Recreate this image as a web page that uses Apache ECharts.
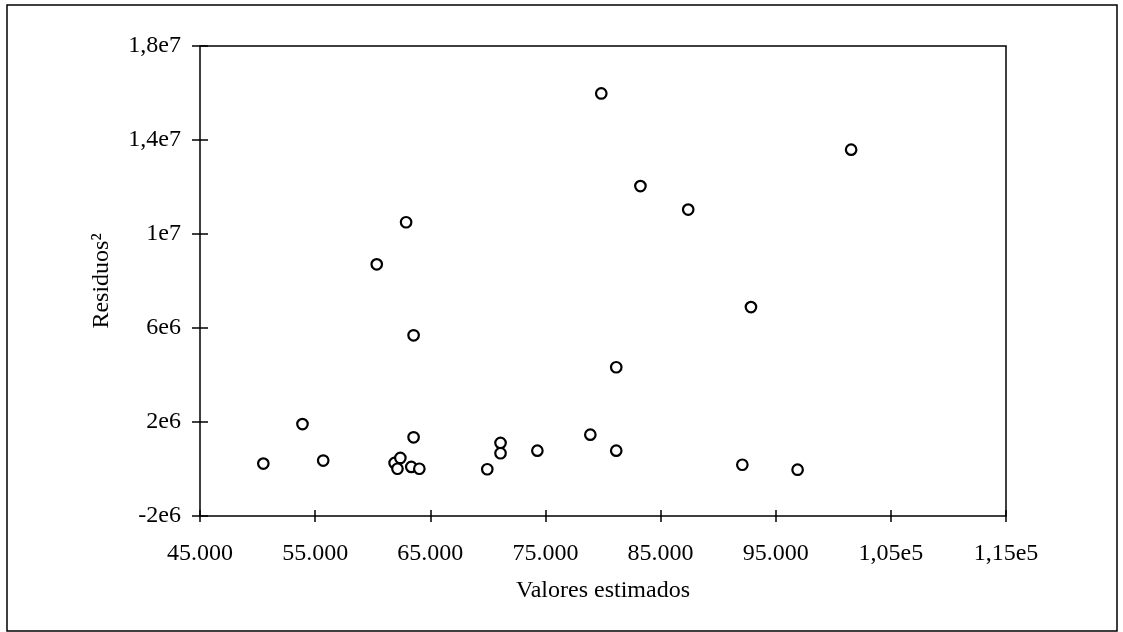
<!DOCTYPE html>
<html>
<head>
<meta charset="utf-8">
<title>Residuos vs valores estimados</title>
<script src="https://cdn.jsdelivr.net/npm/echarts@6/dist/echarts.min.js"></script>
<style>
  html, body { margin: 0; padding: 0; background: #fff; }
  #chart { width: 1123px; height: 632px; }
</style>
</head>
<body>
<div id="chart"></div>
<script>
// valores estimados (x) y residuos al cuadrado (y)
const xVals = [50500, 53900, 55700, 61900, 62400, 62150, 63350, 63550, 64050, 69950,
  71100, 71100, 74300, 78900, 81150, 92100, 96900, 62900, 60350, 63550,
  81150, 79850, 101550, 83250, 87400, 92850]
const yVals = [230000, 1910000, 360000, 260000, 470000, 10000, 90000, 1350000, 10000, -10000,
  1110000, 670000, 780000, 1460000, 780000, 180000, -30000, 10500000, 8710000, 5690000,
  4330000, 15980000, 13590000, 12040000, 11040000, 6890000]

const xTicks = [45000, 55000, 65000, 75000, 85000, 95000, 105000, 115000]
const xTickLabels = ['45.000', '55.000', '65.000', '75.000', '85.000', '95.000', '1,05e5', '1,15e5']
const yTicks = [-2000000, 2000000, 6000000, 10000000, 14000000, 18000000]
const yTickLabels = ['-2e6', '2e6', '6e6', '1e7', '1,4e7', '1,8e7']

const font = "'Liberation Serif', 'Times New Roman', serif"
const points = xVals.map((x, i) => [x, yVals[i]])

const myChart = echarts.init(document.getElementById('chart'), null, { renderer: 'canvas' })
const option = {
  backgroundColor: '#fff',
  animation: false,
  textStyle: { fontFamily: font, color: '#000' },
  graphic: [
    {
      type: 'rect',
      shape: { x: 7, y: 5, width: 1110, height: 626 },
      style: { fill: null, stroke: '#000', lineWidth: 1.5 }
    }
  ],
  // the grid border draws the axis lines, the axes are shifted inward
  // so that their ticks cross the line
  grid: {
    show: true,
    left: 200,
    right: 117,
    top: 46,
    bottom: 116,
    borderColor: '#000',
    borderWidth: 1.5,
    backgroundColor: 'transparent'
  },
  xAxis: {
    type: 'value',
    min: 45000,
    max: 115000,
    offset: -6,
    name: 'Valores estimados',
    nameLocation: 'middle',
    nameGap: 69,
    nameTextStyle: { fontFamily: font, fontSize: 24, color: '#000' },
    axisLine: { show: false, onZero: false },
    axisTick: { show: true, length: 12, customValues: xTicks, lineStyle: { color: '#000', width: 1.5 } },
    axisLabel: {
      customValues: xTicks,
      margin: 32,
      fontFamily: font,
      fontSize: 24,
      color: '#000',
      formatter: v => xTickLabels[xTicks.indexOf(v)]
    },
    splitLine: { show: false }
  },
  yAxis: {
    type: 'value',
    min: -2000000,
    max: 18000000,
    offset: -8,
    name: 'Residuos²',
    nameLocation: 'middle',
    nameGap: 94,
    nameTextStyle: { fontFamily: font, fontSize: 24, color: '#000' },
    axisLine: { show: false, onZero: false },
    axisTick: { show: true, length: 16, customValues: yTicks, lineStyle: { color: '#000', width: 1.5 } },
    axisLabel: {
      customValues: yTicks,
      margin: 27,
      fontFamily: font,
      fontSize: 24,
      color: '#000',
      formatter: v => yTickLabels[yTicks.indexOf(v)]
    },
    splitLine: { show: false }
  },
  series: [
    {
      name: 'Residuos²',
      type: 'scatter',
      symbol: 'circle',
      symbolSize: 10.5,
      itemStyle: { color: '#fff', borderColor: '#000', borderWidth: 2.2, opacity: 1 },
      data: points
    }
  ]
}
myChart.setOption(option)
</script>
</body>
</html>
